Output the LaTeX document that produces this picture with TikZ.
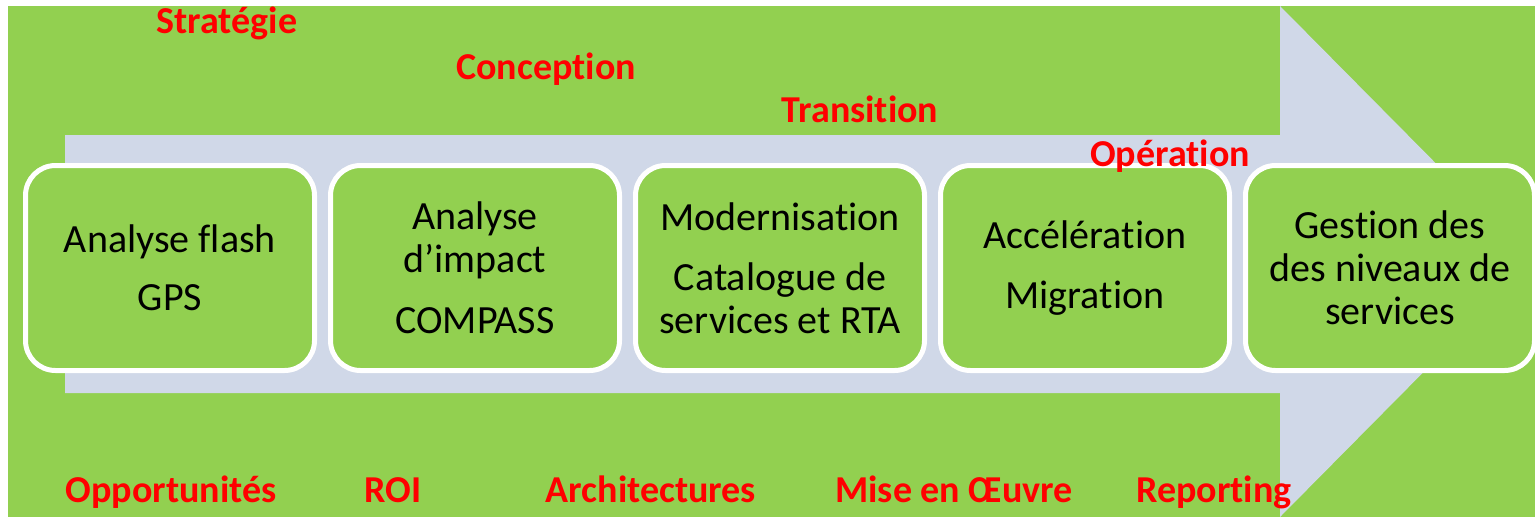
\documentclass[tikz,border=0pt]{standalone}
\usepackage{fontspec}
\setmainfont{Carlito}[Ligatures={NoCommon,NoContextual}, Contextuals=NoAlternate, RawFeature={-clig}]
\usetikzlibrary{positioning}
\definecolor{leafgreen}{HTML}{92D050}
\definecolor{arrowgrey}{HTML}{D0D8E8}
\newcommand*{\boxw }{289pt}
\newcommand*{\boxh }{205pt}
\newcommand*{\gapw }{16pt}
\newcommand*{\topy }{33}
\newcommand*{\boty }{502}

\begin{document}
\begin{tikzpicture}[x=1pt, y=-1pt, font=\fontsize{40}{43}\selectfont,
    stagebox/.style={draw=white, line width=5pt, fill=leafgreen, rounded corners=30pt,
        minimum width=\boxw, minimum height=\boxh, outer sep=0pt, inner sep=0pt,
        align=center, text=black},
    phase/.style={text=red, font=\fontsize{38}{40}\selectfont\bfseries, inner sep=0pt, anchor=base},
    node distance=\gapw]
    \useasboundingbox (0,0) rectangle (1535,517);
    	\fill [leafgreen] (8,6) rectangle (1535,517);
        \fill [arrowgrey] (65,135) -- (1280,135) -- (1280,6) -- (1533,261.5) -- (1280,517) -- (1280,393) -- (65,393) -- cycle;
        \node [stagebox] (flash) at (170,268) {Analyse flash\\[15pt]GPS};
        \node [stagebox, right=of flash] (impact) {Analyse\\d’impact\\[18pt]COMPASS};
        \node [stagebox, right=of impact] (modern) {Modernisation\\[17pt]Catalogue de\\services et RTA};
        \node [stagebox, right=of modern] (accel) {Accélération\\[17pt]Migration};
        \node [stagebox, right=of accel] (gestion) {Gestion des\\des niveaux de\\services};
        % phases along the top
        \node [phase] (strategie) at ( 227,\topy) {Stratégie};
        \node [phase] (conception) at ( 546,79) {Conception};
        \node [phase] (transition) at ( 860,122) {Transition};
        \node [phase] (operation) at (1170,166) {Opération};
        % outcomes along the bottom
        \node [phase] (opportunites) at ( 171,\boty) {Opportunités};
        \node [phase] (roi) at ( 393,\boty) {ROI};
        \node [phase] (archi) at ( 651,\boty) {Architectures};
        \node [phase] (oeuvre) at ( 954,\boty) {Mise en Œuvre};
        \node [phase] (reporting) at (1214,\boty) {Reporting};
    \end{tikzpicture}
\end{document}
